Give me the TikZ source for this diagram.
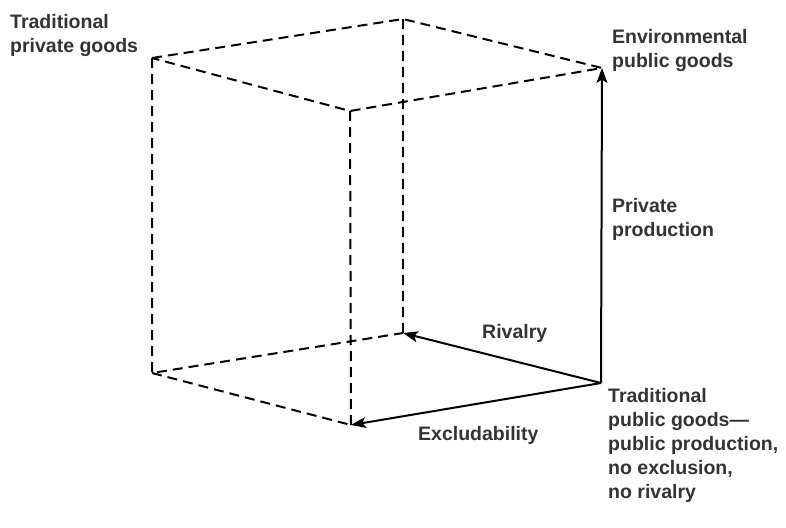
\documentclass[tikz,border=0pt]{standalone}
\usepackage{fontspec}
\setmainfont{Liberation Sans}
\usetikzlibrary{arrows.meta}
\definecolor{txt}{HTML}{333333}
\begin{document}
\begin{tikzpicture}[x=1pt,y=-1pt,
  edge/.style={line width=2pt,dash pattern=on 10pt off 6pt},
  axis/.style={line width=2pt,-{Stealth[length=15pt,width=11pt,inset=3.5pt]}},
  lbl/.style={font=\bfseries\fontsize{19.5}{24}\selectfont,text=txt,align=left,inner sep=0pt,anchor=north west}]
\useasboundingbox (0,0) rectangle (786,527);
\coordinate (TL) at (152,58);
\coordinate (TB) at (403,19);
\coordinate (TR) at (602,68);
\coordinate (TF) at (350,111);
\coordinate (BL) at (152,373);
\coordinate (BB) at (403,333);
\coordinate (BR) at (601,383);
\coordinate (BF) at (351,425);
\draw[edge] (TL) -- (TB) -- (TR) -- (TF) -- cycle;
\draw[edge] (TL) -- (BL) -- (BB);
\draw[edge] (BL) -- (BF);
\draw[edge] (TB) -- (BB);
\draw[edge] (TF) -- (BF);
\draw[axis] (BR) -- (TR);
\draw[axis] (BR) -- (BB);
\draw[axis] (BR) -- (BF);
\node[lbl] (tpg) at (10,14) {Traditional\\private goods};
\node[lbl] (epg) at (612,29) {Environmental\\public goods};
\node[lbl] (pp) at (612,198) {Private\\production};
\node[lbl] (riv) at (482,324) {Rivalry};
\node[lbl] (exc) at (418,426) {Excludability};
\node[lbl] (tpub) at (608,388) {Traditional\\public goods---\\public production,\\no exclusion,\\no rivalry};
\end{tikzpicture}
\end{document}
